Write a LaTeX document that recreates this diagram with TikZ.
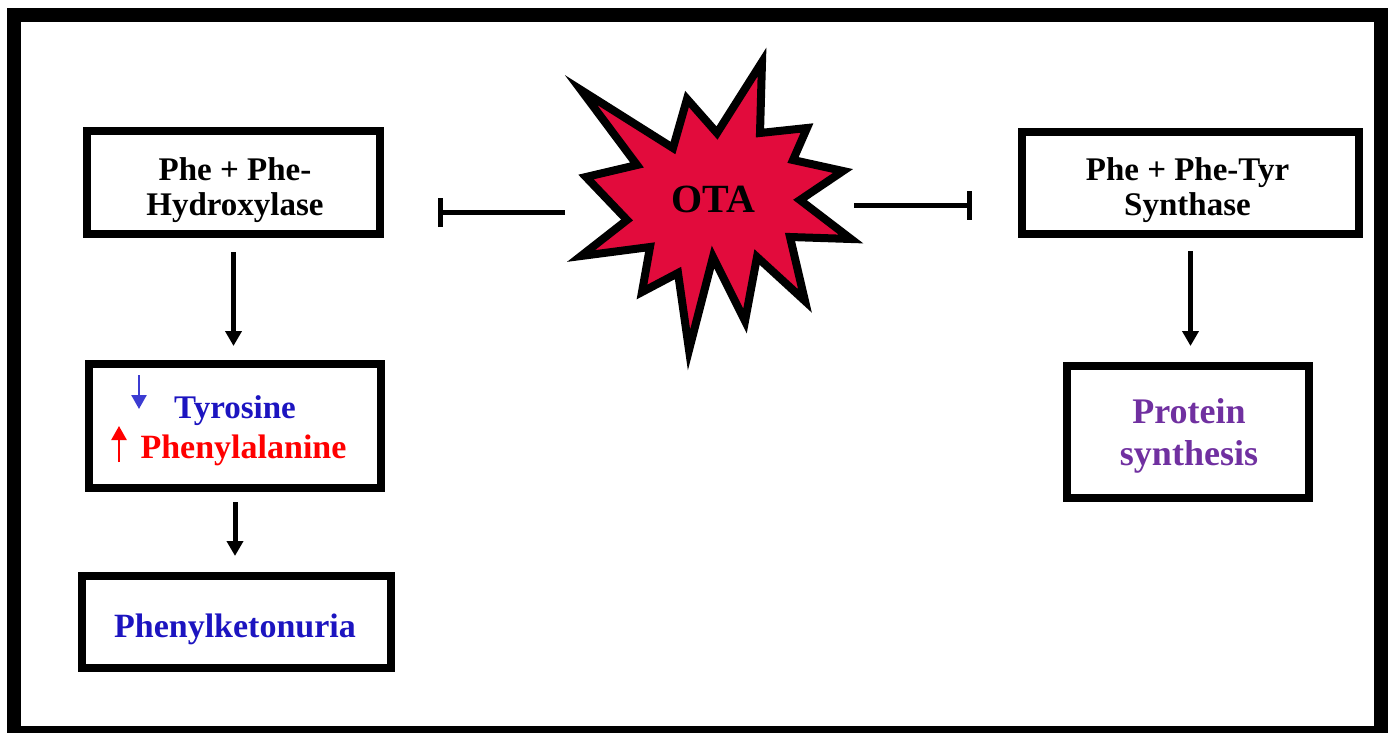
\documentclass[tikz,border=0pt]{standalone}
\usepackage{fontspec}
\setmainfont{Liberation Serif}
\usetikzlibrary{arrows.meta}

\newlength{\pxu}
\setlength{\pxu}{0.5pt}

\definecolor{otared}{RGB}{226,11,60}
\definecolor{tyrblue}{RGB}{28,20,192}
\definecolor{arrblue}{RGB}{60,60,210}
\definecolor{phered}{RGB}{255,0,0}
\definecolor{protpurple}{RGB}{112,48,160}

\begin{document}
\begin{tikzpicture}[x=0.5pt,y=-0.5pt,
  box/.style={draw,line width=8\pxu,inner sep=0pt},
  txt/.style={font=\bfseries\fontsize{16.5}{17.5}\selectfont,align=center,anchor=base,inner sep=0pt},
  flow/.style={line width=5\pxu,-{Triangle[width=8pt,length=7.5pt]}},
  inhib/.style={line width=5\pxu,-{Bar[width=14.5pt]}},
  updown/.style={line width=2.5\pxu,-{Triangle[width=7.5pt,length=7pt]}}]
  \useasboundingbox (0,0) rectangle (1392,733);
  \draw[line width=14\pxu] (14,15) rectangle (1381,733);

  % boxes
  \node[box,minimum width=293\pxu,minimum height=103\pxu] (hyd) at (233.5,182.5) {};
  \node[box,minimum width=292\pxu,minimum height=124\pxu] (lvl) at (235,426) {};
  \node[box,minimum width=309\pxu,minimum height=92\pxu] (pku) at (236.5,622) {};
  \node[box,minimum width=337\pxu,minimum height=102\pxu] (syn) at (1190.5,183) {};
  \node[box,minimum width=242\pxu,minimum height=132\pxu] (prot) at (1188,432) {};

  % texts (base = last line)
  \node[txt] (hydtxt) at (235,215) {Phe + Phe-\\Hydroxylase};
  \node[txt,tyrblue] (tyrtxt) at (235,418) {Tyrosine};
  \node[txt,phered,font=\bfseries\fontsize{17}{18}\selectfont] (phetxt) at (243.5,458) {Phenylalanine};
  \node[txt,tyrblue,font=\bfseries\fontsize{17}{18}\selectfont] (pkutxt) at (235,637) {Phenylketonuria};
  \node[txt] (syntxt) at (1187.5,215) {Phe + Phe-Tyr\\Synthase};
  \node[txt,protpurple,font=\bfseries\fontsize{18}{21}\selectfont] (prottxt) at (1189,465) {Protein\\synthesis};

  % up / down marks
  \draw[updown,arrblue] (139,375) -- (139,409);
  \draw[updown,phered] (119,462) -- (119,426);

  % the toxin
  \draw[line width=8\pxu,fill=otared,line join=miter]
    (581,90) -- (673,148) -- (687,99) -- (717,133) -- (762,62) -- (760,133)
    -- (807,128) -- (793,160) -- (843,171) -- (800,200) -- (851,239)
    -- (790,237) -- (805,301) -- (757,257) -- (745,321) -- (713,257)
    -- (689,350) -- (678,273) -- (642,292) -- (650,247) -- (581,256)
    -- (627,220) -- (586,177) -- (637,165) -- cycle;
  \node[txt,font=\bfseries\fontsize{20}{22}\selectfont] (ota) at (713.5,213) {OTA};
  \coordinate (otaW) at (565,212.5);
  \coordinate (otaE) at (854,205.5);

  % arrows
  \draw[flow,shorten <=14\pxu,shorten >=14\pxu] (hyd.south) -- (hyd.south |- lvl.north);
  \draw[flow,shorten <=10\pxu,shorten >=16\pxu] (lvl.south) -- (lvl.south |- pku.north);
  \draw[flow,shorten <=13\pxu,shorten >=16\pxu] (syn.south) -- (syn.south |- prot.north);
  \draw[inhib,shorten >=54\pxu] (otaW) -- (otaW -| hyd.east);
  \draw[inhib,shorten >=46\pxu] (otaE) -- (otaE -| syn.west);
\end{tikzpicture}
\end{document}
